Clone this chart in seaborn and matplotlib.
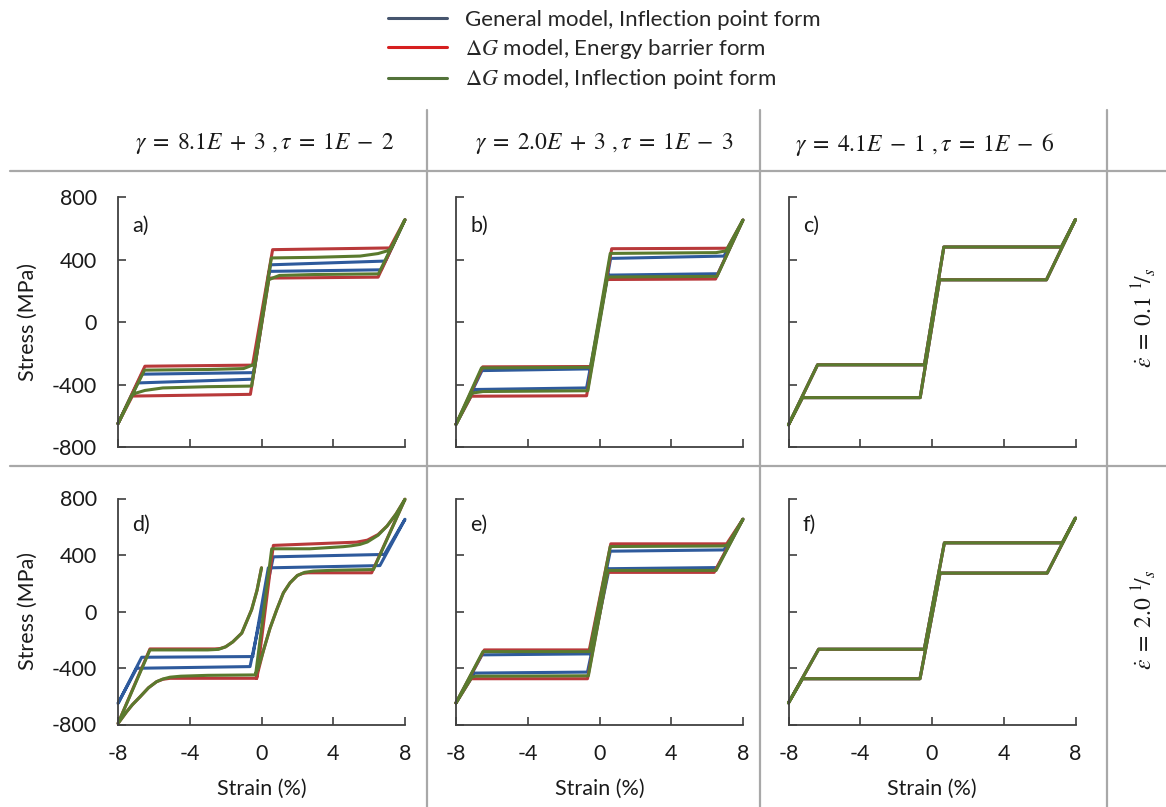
import numpy as np
import pandas as pd
import seaborn as sns
import matplotlib
matplotlib.use("Agg")
import matplotlib.pyplot as plt
from matplotlib.lines import Line2D

# ---------------- data (strain %, stress MPa) ----------------
MODELS = ["General model, Inflection point form",
          r"$\Delta G$ model, Energy barrier form",
          r"$\Delta G$ model, Inflection point form"]
LINE_COLORS = ["#2E5A9C", "#B8393A", "#5A7A2E"]
LEGEND_COLORS = ["#46556E", "#D61F1F", "#53733A"]

COL_HEADERS = [r"$\gamma\;=\;8.1E\;+\;3\ ,\tau\;=\;1E\;-\;2$",
               r"$\gamma\;=\;2.0E\;+\;3\ ,\tau\;=\;1E\;-\;3$",
               r"$\gamma\;=\;4.1E\;-\;1\ ,\tau\;=\;1E\;-\;6$"]
ROW_LABELS = [r"$\dot{\varepsilon}\;=\;0.1\ {}^{1}\!/_{s}$",
              r"$\dot{\varepsilon}\;=\;2.0\ {}^{1}\!/_{s}$"]
PANEL_LABELS = ["a)", "b)", "c)", "d)", "e)", "f)"]
X_TICKS = [-8, -4, 0, 4, 8]
Y_TICKS = [-800, -400, 0, 400, 800]

# panel a
A_GEN_STRAIN = [-8, -6.68, -0.42, 0.5, 6.9, 8, 6.68, 0.42, -0.5, -6.9, -8]
A_GEN_STRESS = [-650, -334, -324, 366, 390, 655, 334, 324, -366, -390, -650]
A_EB_STRAIN = [-8, -6.5, -0.5, 0.62, 7.15, 8, 6.5, 0.42, -0.62, -7.2, -8]
A_EB_STRESS = [-650, -283, -276, 463, 474, 655, 287, 281, -463, -474, -650]
A_IP_STRAIN = [-8, -6.52, -3.0, -1.0, -0.7, -0.4, 0.55, 3.0, 5.5, 6.5, 7.0, 7.25, 8,
               6.52, 3.0, 1.0, 0.7, 0.4, -0.55, -3.0, -5.5, -6.5, -7.0, -7.25, -8]
A_IP_STRESS = [-650, -308, -304, -298, -285, -270, 410, 414, 422, 438, 455, 472, 655,
               308, 304, 298, 285, 270, -410, -414, -422, -438, -455, -472, -650]

# panel b
B_GEN_STRAIN = [-8, -6.55, -0.47, 0.62, 6.94, 8, 6.6, 0.45, -0.72, -6.97, -8]
B_GEN_STRESS = [-655, -311, -300, 407, 422, 653, 309, 300, -422, -432, -655]
B_EB_STRAIN = [-8, -6.51, -0.47, 0.68, 7.13, 8, 6.47, 0.40, -0.72, -7.16, -8]
B_EB_STRESS = [-655, -287, -285, 469, 472, 653, 275, 272, -472, -475, -655]
B_IP_STRAIN = [-8, -6.58, -0.5, 0.6, 6.5, 7.05, 8, 6.55, 0.45, -0.65, -6.5, -7.1, -8]
B_IP_STRESS = [-655, -294, -290, 439, 444, 455, 653, 292, 288, -440, -445, -455, -655]

# panel c (all three models coincide)
C_STRAIN = [-8, -6.38, -0.42, 0.66, 7.21, 8, 6.38, 0.42, -0.66, -7.22, -8]
C_STRESS = [-658, -274, -274, 480, 480, 656, 270, 270, -484, -484, -658]

# panel d
D_GEN_STRAIN = [-0.49, 0.0, 0.38, 6.6, 8, 6.85, 0.66, -0.64, -6.96, -8, -6.68, -0.49]
D_GEN_STRESS = [-319, 36, 309, 325, 653, 404, 387, -390, -402, -651, -324, -319]
D_EB_STRAIN = [-0.27, 0.66, 5.3, 5.9, 6.5, 7.0, 7.5, 8,
               6.14, 2.6, 2.3, 2.0, 1.59, 1.22, 0.85, 0.47, 0.1, -0.18, -0.27,
               -5.1, -5.5, -5.85, -6.3, -6.77, -7.2, -7.52, -8,
               -6.22, -2.6, -2.3, -2.0, -1.6, -1.1, -0.55, -0.25, 0.0]
D_EB_STRESS = [-473, 468, 491, 505, 545, 605, 690, 795,
               274, 274, 270, 255, 203, 132, 13, -120, -280, -420, -473,
               -473, -480, -497, -540, -604, -660, -710, -793,
               -265, -265, -262, -250, -215, -153, 13, 150, 309]
D_IP_STRAIN = [-0.33, 0.57, 2.7, 4.56, 5.0, 5.49, 5.9, 6.5, 7.0, 7.5, 8,
               6.24, 4.0, 2.89, 2.4, 2.0, 1.59, 1.22, 0.85, 0.47, 0.1, -0.18, -0.36,
               -3.0, -4.5, -5.1, -5.5, -5.85, -6.3, -6.77, -7.2, -7.52, -8,
               -6.22, -3.0, -2.4, -2.0, -1.6, -1.1, -0.55, -0.25, 0.0]
D_IP_STRESS = [-449, 444, 444, 459, 465, 475, 492, 540, 605, 690, 795,
               297, 292, 286, 277, 255, 203, 132, 13, -120, -280, -400, -449,
               -452, -458, -465, -478, -497, -540, -604, -660, -710, -793,
               -272, -272, -268, -250, -215, -153, 13, 150, 309]

# panel e
E_GEN_STRAIN = [-8, -6.55, -0.57, 0.6, 6.94, 8, 6.55, 0.54, -0.67, -6.98, -8]
E_GEN_STRESS = [-647, -307, -300, 427, 436, 654, 311, 303, -429, -436, -647]
E_EB_STRAIN = [-8, -6.42, -0.57, 0.63, 7.09, 8, 6.39, 0.45, -0.67, -7.16, -8]
E_EB_STRESS = [-647, -272, -272, 479, 479, 654, 277, 277, -476, -476, -647]
E_IP_STRAIN = [-8, -6.5, -0.55, 0.6, 6.9, 7.12, 8, 6.5, 0.47, -0.62, -6.9, -7.12, -8]
E_IP_STRESS = [-647, -284, -284, 460, 464, 470, 654, 291, 291, -455, -458, -465, -647]

# panel f (all three models coincide)
F_STRAIN = [-8, -6.32, -0.43, 0.69, 7.26, 8, 6.42, 0.45, -0.67, -7.22, -8]
F_STRESS = [-647, -267, -267, 486, 486, 662, 272, 272, -476, -476, -647]

PANELS = [
    [(A_GEN_STRAIN, A_GEN_STRESS), (A_EB_STRAIN, A_EB_STRESS), (A_IP_STRAIN, A_IP_STRESS)],
    [(B_GEN_STRAIN, B_GEN_STRESS), (B_EB_STRAIN, B_EB_STRESS), (B_IP_STRAIN, B_IP_STRESS)],
    [(C_STRAIN, C_STRESS), (C_STRAIN, C_STRESS), (C_STRAIN, C_STRESS)],
    [(D_GEN_STRAIN, D_GEN_STRESS), (D_EB_STRAIN, D_EB_STRESS), (D_IP_STRAIN, D_IP_STRESS)],
    [(E_GEN_STRAIN, E_GEN_STRESS), (E_EB_STRAIN, E_EB_STRESS), (E_IP_STRAIN, E_IP_STRESS)],
    [(F_STRAIN, F_STRESS), (F_STRAIN, F_STRESS), (F_STRAIN, F_STRESS)],
]

# ---------------- style ----------------
sns.set_theme(style="ticks")
plt.rcParams["font.family"] = ["Lato", "DejaVu Sans"]
plt.rcParams["mathtext.fontset"] = "stix"
plt.rcParams["axes.unicode_minus"] = False

W, H = 1166, 807
fig = plt.figure(figsize=(W / 100, H / 100), dpi=100)
fig.patch.set_facecolor("white")


def fx(px):
    return px / W


def fy(py):
    return 1 - py / H


GRID_C = "#A8A8A8"
TXT_C = "#1a1a1a"
FS = 15.5
# table grid lines
for yy in (171, 466):
    fig.add_artist(Line2D([fx(10), fx(1166)], [fy(yy), fy(yy)], color=GRID_C, lw=1.6))
for xx in (427, 760, 1107):
    fig.add_artist(Line2D([fx(xx), fx(xx)], [fy(110), fy(807)], color=GRID_C, lw=1.6))

COL_LEFT = [118, 456, 788.5]
AX_W = 287
ROW_TOP = [197, 498.5]
ROW_BOT = [447, 724.5]

SPINE_C = "#404040"
for idx, series in enumerate(PANELS):
    r, c = divmod(idx, 3)
    left = COL_LEFT[c]
    top, bot = ROW_TOP[r], ROW_BOT[r]
    ax = fig.add_axes([fx(left), fy(bot), AX_W / W, (bot - top) / H])
    ax.set_facecolor("none")
    frames = []
    for m, (xs, ys) in zip(MODELS, series):
        frames.append(pd.DataFrame({"strain": xs, "stress": ys, "model": m}))
    df = pd.concat(frames, ignore_index=True)
    sns.lineplot(data=df, x="strain", y="stress", hue="model", hue_order=MODELS,
                 palette=LINE_COLORS, estimator=None, sort=False, legend=False,
                 lw=2.2, ax=ax, clip_on=False)
    ax.set_xlim(-8, 8)
    ax.set_ylim(-800, 800)
    sns.despine(ax=ax)
    for s in ("left", "bottom"):
        ax.spines[s].set_color(SPINE_C)
        ax.spines[s].set_linewidth(1.3)
    ax.set_xticks(X_TICKS)
    ax.set_yticks(Y_TICKS)
    ax.set_xticklabels([str(v) for v in X_TICKS])
    ax.set_yticklabels([str(v) for v in Y_TICKS])
    ax.tick_params(direction="in", length=6, width=1.2, color=SPINE_C,
                   labelsize=FS, labelcolor=TXT_C)
    ax.tick_params(axis="x", pad=14)
    ax.tick_params(axis="y", pad=15)
    if r == 0:
        ax.tick_params(axis="x", labelbottom=False)
        ax.set_xlabel("")
    else:
        ax.set_xlabel("Strain (%)", fontsize=FS, color=TXT_C)
        ax.xaxis.set_label_coords(0.5, -0.24)
    if c == 0:
        ax.set_ylabel("Stress (MPa)", fontsize=FS, color=TXT_C)
        ax.yaxis.set_label_coords(-0.28, 0.5)
    else:
        ax.tick_params(axis="y", labelleft=False)
        ax.set_ylabel("")
    ax.text(0.05, 0.885, PANEL_LABELS[idx], transform=ax.transAxes,
            fontsize=FS, va="center", ha="left", color=TXT_C)

# column headers
for xc, txt in zip((265, 604, 925), COL_HEADERS):
    fig.text(fx(xc), fy(144), txt, ha="center", va="center", fontsize=17, color=TXT_C)

# row labels
for yc, txt in zip((318, 620), ROW_LABELS):
    fig.text(fx(1144), fy(yc), txt, ha="center", va="center", rotation=90,
             fontsize=17, color=TXT_C)

# legend
handles = [Line2D([], [], color=col, lw=2.2) for col in LEGEND_COLORS]
fig.legend(handles=handles, labels=MODELS, loc="upper left",
           bbox_to_anchor=(fx(388), fy(10)), frameon=False, fontsize=16,
           handlelength=2.65, handletextpad=0.8, labelspacing=0.3,
           borderaxespad=0, borderpad=0)

fig.savefig("out.png", dpi=100, facecolor="white")
